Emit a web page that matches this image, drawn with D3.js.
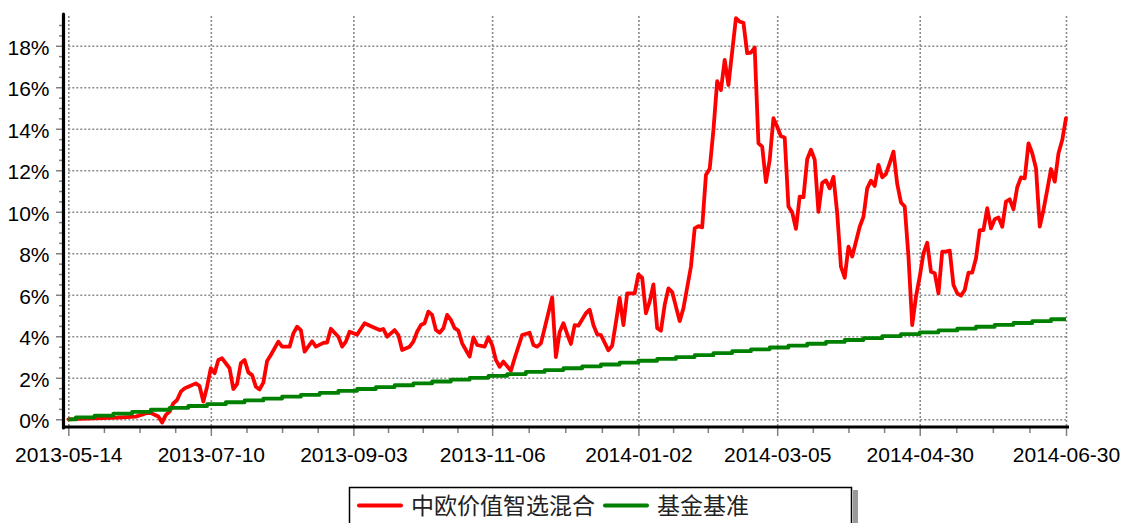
<!DOCTYPE html>
<html><head><meta charset="utf-8">
<script src="https://cdn.jsdelivr.net/npm/d3@7"></script>
<style>
html,body{margin:0;padding:0;background:#fff;}
svg{display:block;}
</style></head>
<body>
<svg id="chart" width="1123" height="523"></svg>
<script>
// ---- data ----
const seriesNames = ["中欧价值智选混合", "基金基准"];
const tickDays = [0, 38, 76, 113, 152, 189, 227, 266];
const tickLabels = ["2013-05-14","2013-07-10","2013-09-03","2013-11-06","2014-01-02","2014-03-05","2014-04-30","2014-06-30"];
const yTickValues = [0, 2, 4, 6, 8, 10, 12, 14, 16, 18];

// fund cumulative return (%) at trading-day index
const fundDay = [0,3,7,13,18,21,22,24,25,26,27,28,29,30,31,32,34,35,36,37,38,39,40,41,43,44,45,46,47,48,49,50,51,52,53,54,56,57,59,60,61,62,63,65,66,68,69,70,72,73,74,75,77,79,81,83,84,85,86,87,88,89,91,92,93,94,95,96,97,98,99,100,101,102,103,104,105,106,107,108,109,111,112,113,114,115,116,118,119,121,123,124,125,126,127,129,130,131,132,133,134,135,136,138,139,140,141,142,144,145,146,147,148,149,151,152,153,154,155,156,157,158,159,160,161,163,164,166,167,168,169,170,171,172,173,174,175,176,178,179,180,181,182,183,184,185,186,187,188,189,190,191,192,193,194,195,196,197,198,199,200,201,202,203,204,205,206,207,208,209,211,212,213,214,215,216,217,218,219,220,221,222,223,224,225,226,227,228,229,230,231,232,233,234,235,236,237,238,239,240,241,242,243,244,245,246,247,248,249,250,251,252,253,254,255,256,257,258,259,260,261,262,263,264,265,266];
const fundRet = [0.00,0.02,0.05,0.08,0.13,0.30,0.30,0.13,-0.16,0.21,0.37,0.77,0.93,1.33,1.49,1.57,1.73,1.60,0.85,1.57,2.46,2.22,2.86,2.94,2.46,1.46,1.70,2.70,2.86,2.26,2.13,1.57,1.44,1.77,2.81,3.10,3.74,3.50,3.50,4.14,4.46,4.30,3.26,3.76,3.50,3.68,3.70,4.36,3.98,3.50,3.74,4.22,4.08,4.63,4.46,4.30,4.35,3.98,4.14,4.30,4.06,3.34,3.50,3.74,4.22,4.54,4.63,5.19,5.03,4.30,4.17,4.39,5.03,4.79,4.39,4.27,3.66,3.34,3.02,3.95,3.58,3.50,3.95,3.58,2.86,2.53,2.78,2.34,2.94,4.06,4.17,3.58,3.50,3.66,4.39,5.87,3.00,4.21,4.63,4.11,3.63,4.54,4.51,5.11,5.28,4.54,4.10,4.06,3.32,3.54,4.67,5.85,4.54,6.07,6.07,6.98,6.82,5.11,5.67,6.50,4.39,4.27,5.51,6.31,6.13,4.73,5.35,7.35,9.20,9.31,9.25,11.77,12.07,13.94,16.29,15.87,17.32,16.11,19.33,19.16,19.11,17.64,17.67,17.91,13.30,13.14,11.43,12.50,14.51,14.10,13.64,13.58,10.25,9.97,9.18,10.73,10.70,12.53,12.99,12.51,10.00,11.39,11.51,11.13,11.68,9.93,7.35,6.82,8.32,7.84,9.28,9.76,11.13,11.50,11.24,12.26,11.66,11.82,12.34,12.90,11.34,10.45,10.25,7.84,4.54,5.91,6.87,8.00,8.51,7.11,7.04,6.07,8.08,8.08,8.13,6.47,6.07,5.96,6.23,7.07,7.07,7.76,9.12,9.12,10.17,9.20,9.64,9.73,9.28,10.49,10.60,10.12,11.18,11.66,11.61,13.30,12.82,12.10,9.28,10.09,11.05,12.06,11.45,12.82,13.46,14.51];

// benchmark (%) weekly values
const benchWeekly = [0.00,0.09,0.18,0.27,0.36,0.46,0.55,0.64,0.73,0.82,0.91,1.00,1.09,1.18,1.27,1.37,1.46,1.55,1.64,1.73,1.82,1.91,2.00,2.09,2.18,2.28,2.37,2.46,2.55,2.64,2.73,2.82,2.91,3.00,3.09,3.19,3.28,3.37,3.46,3.55,3.64,3.73,3.82,3.91,4.01,4.10,4.19,4.28,4.37,4.46,4.55,4.64,4.73,4.82];
const lastDay = 266;

// ---- chart ----
const svg = d3.select("#chart");
const x = d3.scaleLinear().domain([0, lastDay]).range([68.3, 1066]);
const y = d3.scaleLinear().domain([-0.42, 19.53]).range([428, 14]);
const FONT = "'Liberation Sans', Arial, sans-serif";

// grid
const gridStyle = g => g.selectAll("line").attr("stroke", "#8a8a8a").attr("stroke-width", 1.6).attr("stroke-dasharray", "2,2");
const hGrid = svg.append("g").attr("transform", `translate(${x(0)},0)`)
  .call(d3.axisLeft(y).tickValues(yTickValues).tickSize(-(x(lastDay) - x(0))).tickFormat(""));
hGrid.select(".domain").remove();
hGrid.call(gridStyle);
const vGrid = svg.append("g").attr("transform", `translate(0,16)`)
  .call(d3.axisBottom(x).tickValues(tickDays).tickSize(427 - 16).tickFormat(""));
vGrid.select(".domain").remove();
vGrid.call(gridStyle);

// minor x ticks
const minorX = [];
for (let i = 0; i < tickDays.length - 1; i++) {
  for (let k = 1; k < 4; k++) minorX.push(tickDays[i] + (tickDays[i+1] - tickDays[i]) * k / 4);
}
const mx = svg.append("g").attr("transform", "translate(0,428)")
  .call(d3.axisBottom(x).tickValues(minorX).tickSize(5).tickFormat(""));
mx.select(".domain").remove();
mx.selectAll("line").attr("stroke", "#808080").attr("stroke-width", 1.5);

// major x ticks + labels
const ax = svg.append("g").attr("transform", "translate(0,428)")
  .call(d3.axisBottom(x).tickValues(tickDays).tickSize(8).tickPadding(17).tickFormat((d, i) => tickLabels[i]));
ax.select(".domain").remove();
ax.selectAll("line").attr("stroke", "#808080").attr("stroke-width", 1.5);
ax.selectAll("text").attr("font-family", FONT).attr("font-size", 21).attr("fill", "#000").attr("dy", 0)
  .attr("y", 33.5);

// minor y ticks
const minorY = d3.range(0.5, 19.5, 0.5).filter(v => Math.abs(v % 2) > 1e-6);
const my = svg.append("g").attr("transform", "translate(63,0)")
  .call(d3.axisLeft(y).tickValues(minorY).tickSize(4).tickFormat(""));
my.select(".domain").remove();
my.selectAll("line").attr("stroke", "#808080").attr("stroke-width", 1.5);

// major y ticks + labels
const ay = svg.append("g").attr("transform", "translate(63,0)")
  .call(d3.axisLeft(y).tickValues(yTickValues).tickSize(7).tickPadding(6).tickFormat(d => d + "%"));
ay.select(".domain").remove();
ay.selectAll("line").attr("stroke", "#808080").attr("stroke-width", 1.5);
ay.selectAll("text").attr("font-family", FONT).attr("font-size", 21).attr("fill", "#000")
  .attr("dy", 0).attr("y", 8.5).attr("x", -13.5);

// axis lines
svg.append("line").attr("x1", 63.5).attr("x2", 63.5).attr("y1", 14).attr("y2", 428)
  .attr("stroke", "#000").attr("stroke-width", 3.2).attr("stroke-linecap", "round");
svg.append("line").attr("x1", 62).attr("x2", 1069).attr("y1", 427).attr("y2", 427)
  .attr("stroke", "#000").attr("stroke-width", 3.2);

// series
const fundData = fundDay.map((d, i) => ({ day: d, v: fundRet[i] }));
const benchData = benchWeekly.map((v, k) => ({ day: k === 0 ? 0 : k * 5 - 3, v }));
benchData.push({ day: lastDay, v: benchWeekly[benchWeekly.length - 1] });

const line = d3.line().x(d => x(d.day)).y(d => y(d.v));
svg.append("path").datum(fundData).attr("d", line)
  .attr("fill", "none").attr("stroke", "#ff0000").attr("stroke-width", 3.8)
  .attr("stroke-linejoin", "round").attr("stroke-linecap", "round");
svg.append("path").datum(benchData).attr("d", line.curve(d3.curveStepAfter))
  .attr("fill", "none").attr("stroke", "#008000").attr("stroke-width", 3.8)
  .attr("stroke-linejoin", "round");

// legend
const lg = svg.append("g");
lg.append("rect").attr("x", 853).attr("y", 490).attr("width", 5).attr("height", 40).attr("fill", "#9a9a9a");
lg.append("rect").attr("x", 349.5).attr("y", 487.5).attr("width", 502).attr("height", 40)
  .attr("fill", "#fff").attr("stroke", "#000").attr("stroke-width", 1.5);
const legendColors = ["#ff0000", "#008000"];
const legendX = [359, 605];
seriesNames.forEach((name, i) => {
  lg.append("line").attr("x1", legendX[i]).attr("x2", legendX[i] + 42).attr("y1", 505.5).attr("y2", 505.5)
    .attr("stroke", legendColors[i]).attr("stroke-width", 4).attr("stroke-linecap", "round");
  lg.append("text").attr("x", legendX[i] + 52).attr("y", 514).text(name)
    .attr("font-family", "'Noto Sans CJK SC', sans-serif").attr("font-size", 23).attr("fill", "#222");
});
</script>
</body></html>
